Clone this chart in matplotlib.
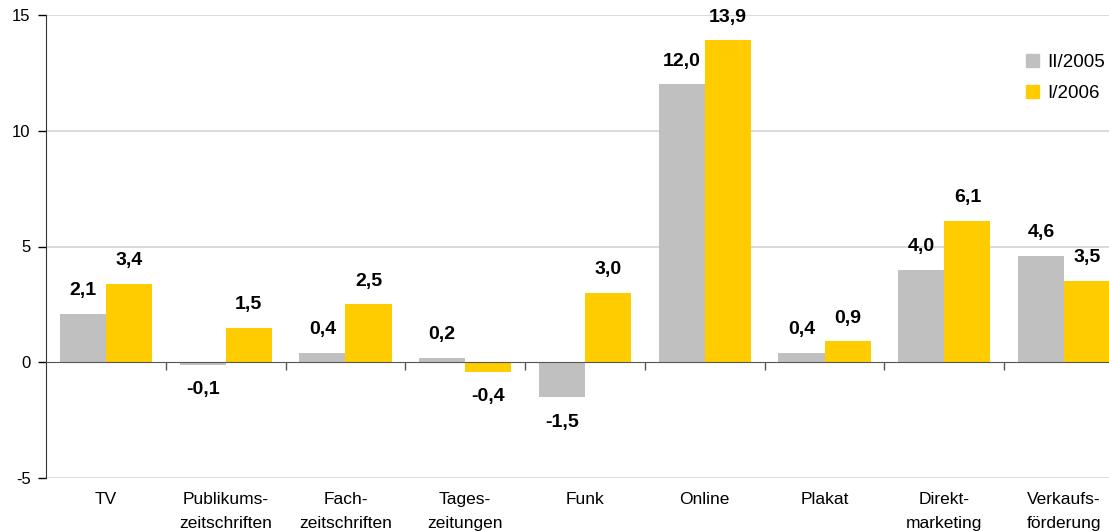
import numpy as np
import matplotlib
matplotlib.use("Agg")
import matplotlib.pyplot as plt
from matplotlib.patches import Patch
from matplotlib import transforms

plt.rcParams['font.family'] = ['Liberation Sans', 'DejaVu Sans']

categories = ["TV", "Publikums-\nzeitschriften", "Fach-\nzeitschriften", "Tages-\nzeitungen",
              "Funk", "Online", "Plakat", "Direkt-\nmarketing", "Verkaufs-\nförderung"]
series_names = ["II/2005", "I/2006"]
values_2005 = [2.1, -0.1, 0.4, 0.2, -1.5, 12.0, 0.4, 4.0, 4.6]
values_2006 = [3.4, 1.5, 2.5, -0.4, 3.0, 13.9, 0.9, 6.1, 3.5]
colors = ["#C0C0C0", "#FFCC00"]

fig = plt.figure(figsize=(11.09, 5.31), dpi=100)
ax = fig.add_axes([46 / 1109, 53 / 531, 1078 / 1109, 463 / 531])

x = np.arange(len(categories))
w = 0.385
for vals, off, col in [(values_2005, -w / 2, colors[0]), (values_2006, w / 2, colors[1])]:
    bars = ax.bar(x + off, vals, width=w, color=col, zorder=2)
    for b, v in zip(bars, vals):
        lbl = f"{v:.1f}".replace(".", ",")
        if v >= 0:
            ax.annotate(lbl, (b.get_x() + b.get_width() / 2, v), xytext=(0, 13.5),
                        textcoords="offset points", ha="center", va="baseline",
                        fontsize=14, fontweight="bold")
        else:
            ax.annotate(lbl, (b.get_x() + b.get_width() / 2, v), xytext=(0, -12),
                        textcoords="offset points", ha="center", va="top",
                        fontsize=14, fontweight="bold")

ax.set_xlim(-0.5, len(categories) - 0.5)
ax.set_ylim(-5, 15)
ax.set_yticks([-5, 0, 5, 10, 15])
ax.set_yticklabels(["-5", "0", "5", "10", "15"])
ax.tick_params(axis="y", length=6, width=1, labelsize=12, pad=5)
for yv in [-5, 5, 10, 15]:
    ax.axhline(yv, color="#D4D4D4", lw=1.2, zorder=1)

ax.spines["top"].set_visible(False)
ax.spines["right"].set_visible(False)
ax.spines["left"].set_color("#333333")
ax.spines["bottom"].set_position(("data", 0))
ax.spines["bottom"].set_color("#555555")
ax.spines["bottom"].set_zorder(3)
ax.set_xticks(x[:-1] + 0.5)
ax.set_xticklabels([])
ax.tick_params(axis="x", length=6, width=1, color="#555555", direction="out")

trans = transforms.blended_transform_factory(ax.transData, ax.transAxes)
for xi, c in zip(x, categories):
    ax.text(xi, -0.03, c, transform=trans, ha="center", va="top",
            fontsize=12.5, linespacing=1.75)

handles = [Patch(color=colors[0]), Patch(color=colors[1])]
fig.legend(handles, series_names, loc="upper right", bbox_to_anchor=(1.012, 0.93),
           frameon=False, fontsize=13.5, handlelength=0.7, handleheight=0.7,
           handletextpad=0.45, labelspacing=0.72)

fig.savefig("out.png", dpi=100)
